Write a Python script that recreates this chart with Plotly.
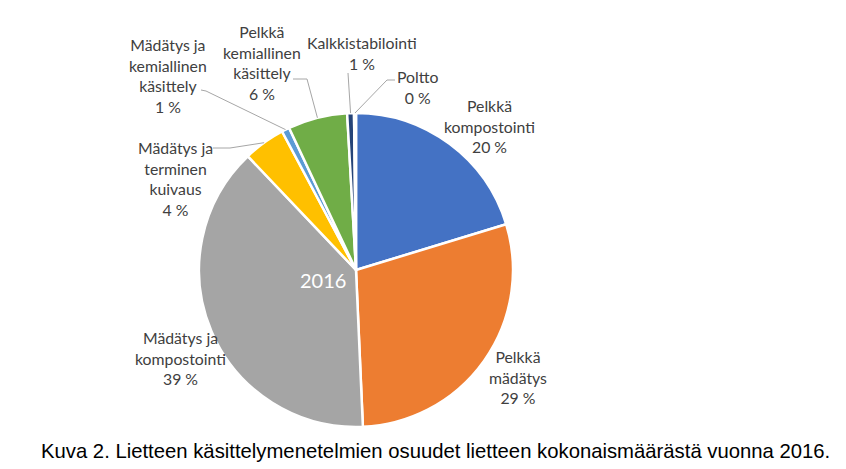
import math
import plotly.graph_objects as go

# ---- data ----
categories = ["Pelkkä kompostointi", "Pelkkä mädätys", "Mädätys ja kompostointi",
              "Mädätys ja terminen kuivaus", "Mädätys ja kemiallinen käsittely",
              "Pelkkä kemiallinen käsittely", "Kalkkistabilointi", "Poltto"]
label_lines = [["Pelkkä", "kompostointi"], ["Pelkkä", "mädätys"], ["Mädätys ja", "kompostointi"],
               ["Mädätys ja", "terminen", "kuivaus"], ["Mädätys ja", "kemiallinen", "käsittely"],
               ["Pelkkä", "kemiallinen", "käsittely"], ["Kalkkistabilointi"], ["Poltto"]]
shares = [20.3, 29.0, 38.6, 4.3, 0.8, 6.1, 0.7, 0.2]
year_title = "2016"
caption = "Kuva 2. Lietteen käsittelymenetelmien osuudet lietteen kokonaismäärästä vuonna 2016."

# ---- style / layout ----
colors = ["#4472C4", "#ED7D31", "#A5A5A5", "#FFC000", "#5B9BD5", "#70AD47", "#264478", "#9E480E"]
W, H = 846, 469
CX, CY, R = 356, 270, 157
label_pos = [(490, 126), (518, 377), (180, 358), (175, 178), (168, 75), (262, 62), (362, 53), (418, 87)]
leader_start = {3: [(213, 148), (230, 148)], 4: [(201, 90), (206, 91)], 5: [(293, 79), (307, 79)],
                6: [(348, 73)], 7: [(395, 80), (387, 80)]}

def px(x, y):
    return x / W, 1 - y / H

total = sum(shares)
fig = go.Figure(go.Pie(
    labels=categories, values=shares, sort=False, direction="clockwise", rotation=0,
    marker=dict(colors=colors, line=dict(color="white", width=2.5)),
    textinfo="none", showlegend=False, hoverinfo="label+percent",
    domain=dict(x=[(CX - R) / W, (CX + R) / W], y=[1 - (CY + R) / H, 1 - (CY - R) / H]),
))

annotations = []
shapes = []
cum = 0.0
for i, v in enumerate(shares):
    mid = (cum + v / 2) / total * 2 * math.pi
    cum += v
    pct = round(v / total * 100)
    text = "<br>".join(label_lines[i] + [f"{pct} %"])
    lx, ly = label_pos[i]
    ax, ay = px(lx, ly)
    annotations.append(dict(x=ax, y=ay, xref="paper", yref="paper", text=text, showarrow=False,
                            xanchor="center", yanchor="middle", align="center",
                            font=dict(family="Lato, Carlito, sans-serif", size=15.8, color="#404040")))
    if i in leader_start:
        pts = list(leader_start[i]) + [(CX + R * math.sin(mid), CY - R * math.cos(mid))]
        path = "M " + " L ".join(f"{px(x, y)[0]},{px(x, y)[1]}" for x, y in pts)
        shapes.append(dict(type="path", path=path, xref="paper", yref="paper",
                           line=dict(color="#A6A6A6", width=1)))

annotations.append(dict(x=323 / W, y=1 - 280 / H, xref="paper", yref="paper", text=year_title,
                        showarrow=False, xanchor="center", yanchor="middle",
                        font=dict(family="Lato, sans-serif", size=20, color="white")))
annotations.append(dict(x=435 / W, y=1 - 451 / H, xref="paper", yref="paper", text=caption,
                        showarrow=False, xanchor="center", yanchor="middle",
                        font=dict(family="Liberation Sans, Arial, sans-serif", size=20.3, color="black")))

fig.update_layout(width=W, height=H, margin=dict(l=0, r=0, t=0, b=0),
                  paper_bgcolor="white", plot_bgcolor="white",
                  annotations=annotations, shapes=shapes)
fig.write_html("out.html")
